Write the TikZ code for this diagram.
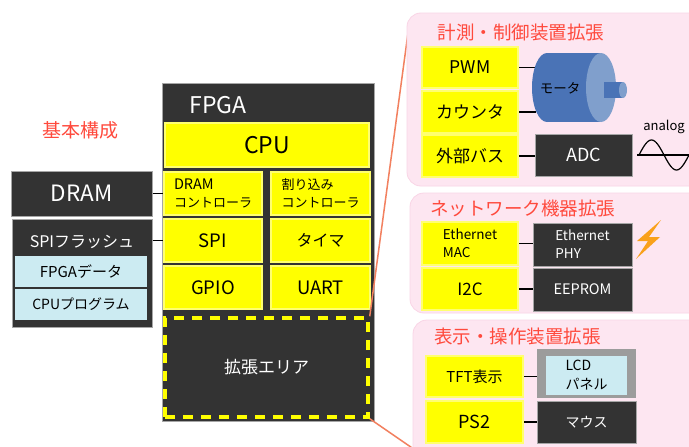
\documentclass[tikz,border=0pt]{standalone}
\usepackage{fontspec}
\setmainfont{Noto Sans CJK JP}
\usepackage{tikz}
\usetikzlibrary{positioning}
\definecolor{boxdark}{HTML}{333333}
\definecolor{cellyellow}{HTML}{FFFF00}
\definecolor{celledge}{HTML}{FFFF70}
\definecolor{memblue}{HTML}{CCEBF2}
\definecolor{panelpink}{HTML}{FDE6F1}
\definecolor{paneledge}{HTML}{F9D5E6}
\definecolor{titlered}{HTML}{FF4A3D}
\definecolor{zoomorange}{HTML}{F2805F}
\definecolor{motorbody}{HTML}{4A73B6}
\definecolor{motorface}{HTML}{809FCC}
\definecolor{boltorange}{HTML}{F9A11B}
\definecolor{lcdgray}{HTML}{9C9C9C}
\newcommand{\fsz}[2]{\fontsize{#1}{#2}\selectfont}
\tikzset{
    every picture/.style={line width=0.8pt},
    cell/.style={draw=celledge,line width=2pt,fill=cellyellow,text=black,inner sep=0pt},
    darkbox/.style={draw=gray!70,line width=1pt,fill=boxdark,text=white,inner sep=0pt},
    membox/.style={fill=memblue,text=black,inner sep=0pt},
    panel/.style={rounded corners=14pt,fill=panelpink,draw=paneledge,inner sep=0pt},
    paneltitle/.style={text=titlered,font=\fsz{18.5}{21}},
    wire/.style={draw=black,line width=1.2pt},
    zoomline/.style={draw=zoomorange,line width=1.5pt}
}

\begin{document}
\begin{tikzpicture}[x=1pt,y=-1pt]
    \clip (0,0) rectangle (689,447);
    \fill[white] (0,0) rectangle (689,447);

    % basic system
    \node[text=titlered,font=\fsz{19}{22}] (basic) at (80,130) {基本構成};

    \node[darkbox,minimum width=212pt,minimum height=338pt] (fpga) at (268,252) {};
    \node[text=white,font=\fsz{23}{26},anchor=west,inner sep=0pt] (fpgalbl) at (189,105) {FPGA};
    \node[cell,minimum width=204pt,minimum height=44pt,font=\fsz{23}{26}] (cpu) at (267,145) {CPU};
    \node[cell,minimum width=98pt,minimum height=43pt,font=\fsz{13}{18},align=left] (dramctrl) at (213,193.5) {{\fsz{14.5}{18}DRAM}\\コントローラ};
    \node[cell,minimum width=99pt,minimum height=43pt,font=\fsz{13}{18},align=left] (intctrl) at (320.5,193.5) {割り込み\\コントローラ};
    \node[cell,minimum width=98pt,minimum height=43pt,font=\fsz{18.5}{20}] (spi) at (213,240.5) {SPI};
    \node[cell,minimum width=99pt,minimum height=43pt,font=\fsz{16}{18}] (timer) at (320.5,240.5) {タイマ};
    \node[cell,minimum width=98pt,minimum height=43pt,font=\fsz{18.5}{20}] (gpio) at (213,287.5) {GPIO};
    \node[cell,minimum width=99pt,minimum height=43pt,font=\fsz{18.5}{20}] (uart) at (320.5,287.5) {UART};
    \node[minimum width=203pt,minimum height=99pt,draw=cellyellow,line width=3.5pt,dash pattern=on 10pt off 8pt,
        text=white,font=\fsz{17}{20}] (ext) at (266.5,367.5) {拡張エリア};

    \node[darkbox,minimum width=141pt,minimum height=45pt,font=\fsz{22.5}{25}] (dram) at (81.5,193.5) {DRAM};
    \node[darkbox,minimum width=140pt,minimum height=108pt] (flash) at (82,273) {};
    \node[text=white,font=\fsz{16}{18}] (flashlbl) at (82,242) {SPIフラッシュ};
    \node[membox,minimum width=132pt,minimum height=31pt,font=\fsz{15}{17}] (fpgadata) at (81,271.5) {FPGAデータ};
    \node[membox,minimum width=132pt,minimum height=31pt,font=\fsz{14}{16}] (cpuprog) at (81,304.5) {CPUプログラム};

    \draw[wire] (dram.east) -- (dramctrl.west);
    \draw[wire] (spi.west -| flash.east) -- (spi.west);

    % zoom lines to the expansions
    \coordinate (zoomtop) at (408,33);
    \coordinate (zoombot) at (418,452);
    \draw[zoomline] (ext.north east) -- (zoomtop);
    \draw[zoomline] (ext.south east) -- (zoombot);

    % measurement / control
    \node[panel,minimum width=300pt,minimum height=173pt] (meas) at (557,99.5) {};
    \node[paneltitle] (meastitle) at (521,32) {計測・制御装置拡張};
    \node[cell,minimum width=96pt,minimum height=41pt,font=\fsz{17.5}{19}] (pwm) at (470,67.5) {PWM};
    \node[cell,minimum width=96pt,minimum height=42pt,font=\fsz{17}{18}] (counter) at (470,112) {カウンタ};
    \node[cell,minimum width=96pt,minimum height=42pt,font=\fsz{17}{18}] (extbus) at (470,156) {外部バス};
    \coordinate (motorL) at (536,87.5);
    \draw[wire] (pwm.east) -- (pwm.east -| motorL);
    \draw[wire] (counter.east) -- (counter.east -| motorL);
    \fill[motorbody] (547,87.5) ellipse [x radius=15,y radius=34.5];
    \fill[motorbody] (547,53) rectangle (601,122);
    \fill[motorface] (601,87.5) ellipse [x radius=15,y radius=34.5];
    \fill[motorbody] (604,82) rectangle (623,98);
    \fill[motorface] (623,90) ellipse [x radius=4,y radius=8];
    \node[font=\fsz{13.5}{16}] (motor) at (560,88) {モータ};
    \node[darkbox,minimum width=97pt,minimum height=42pt,font=\fsz{18}{20}] (adc) at (583.5,155) {ADC};
    \draw[wire] (extbus.east) -- (extbus.east -| adc.west);
    \node[font=\fsz{13}{15}] (analog) at (664,127) {analog};
    \draw[line width=1.2pt] (637,155) -- (689,155);
    \draw[line width=1.2pt,domain=0:360,samples=50,smooth] plot ({639+\x/7.2},{155-15*sin(\x)});

    % network
    \node[panel,minimum width=300pt,minimum height=120pt] (net) at (560,253) {};
    \node[paneltitle] (nettitle) at (522.5,208) {ネットワーク機器拡張};
    \node[cell,minimum width=96pt,minimum height=43pt,font=\fsz{13.5}{18},align=left] (mac) at (470,243.5) {Ethernet\\MAC};
    \node[cell,minimum width=96pt,minimum height=42pt,font=\fsz{17}{18}] (i2c) at (470,289) {I2C};
    \node[darkbox,minimum width=99pt,minimum height=43pt,font=\fsz{13.5}{18},align=left] (phy) at (582.5,244.5) {Ethernet\\PHY};
    \node[darkbox,minimum width=99pt,minimum height=43pt,font=\fsz{14.5}{16}] (eeprom) at (582.5,289.5) {EEPROM};
    \draw[wire] (mac.east) -- (mac.east -| phy.west);
    \draw[wire] (i2c.east) -- (i2c.east -| eeprom.west);
    \fill[boltorange] (661,220) -- (637,241) -- (648,241) -- (636,259) -- (660,237) -- (649,237) -- cycle;

    % display / operation
    \node[panel,minimum width=297pt,minimum height=150pt] (disp) at (561.5,395) {};
    \node[paneltitle] (disptitle) at (517.5,337) {表示・操作装置拡張};
    \node[cell,minimum width=97pt,minimum height=41pt,font=\fsz{15}{18}] (tft) at (474.5,376.5) {TFT表示};
    \node[cell,minimum width=97pt,minimum height=42pt,font=\fsz{18}{20}] (ps2) at (474.5,422) {PS2};
    \node[fill=lcdgray,minimum width=99pt,minimum height=49pt] (lcd) at (586.5,373.5) {};
    \node[membox,minimum width=81pt,minimum height=39pt,font=\fsz{14}{19},align=left] (lcdpanel) at (586.5,375.5) {LCD\\パネル};
    \node[darkbox,minimum width=99pt,minimum height=42pt,font=\fsz{14}{16}] (mouse) at (586.5,422) {マウス};
    \draw[wire] (tft.east) -- (tft.east -| lcd.west);
    \draw[wire] (ps2.east) -- (ps2.east -| mouse.west);
\end{tikzpicture}
\end{document}
